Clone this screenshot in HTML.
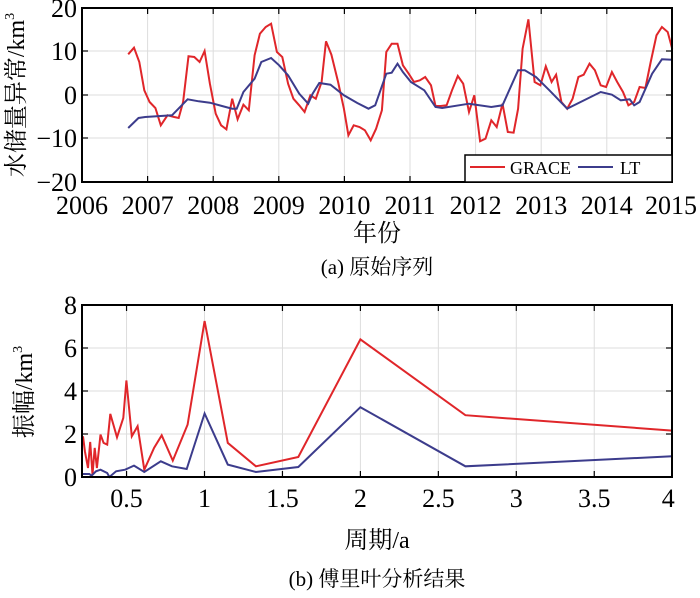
<!DOCTYPE html><html><head><style>
body{margin:0;background:#fff;width:700px;height:593px;overflow:hidden}
svg{font-family:"Liberation Serif","Noto Serif CJK SC",serif}
</style></head><body>
<svg id="s" width="700" height="593" xmlns="http://www.w3.org/2000/svg">
<g stroke="#ddd" stroke-width="1" id="grid"></g>
<g id="lines" fill="none" stroke-width="2"></g>
<rect x="82" y="8" width="590" height="174" fill="none" stroke="#000" stroke-width="2"/>
<rect x="82" y="305" width="590" height="172" fill="none" stroke="#000" stroke-width="2"/>
<g id="ticks" stroke="#000" stroke-width="1.2"></g>
<g font-size="26" text-anchor="end" fill="#000">
<text x="77" y="17">20</text><text x="77" y="60">10</text><text x="77" y="104">0</text><text x="77" y="147">−10</text><text x="77" y="191">−20</text>
<text x="77" y="314">8</text><text x="77" y="357">6</text><text x="77" y="400">4</text><text x="77" y="443">2</text><text x="77" y="486">0</text>
</g>
<g font-size="26" text-anchor="middle" id="xl"></g>
<text transform="translate(24,95) rotate(-90)" font-size="24" text-anchor="middle">水储量异常/km<tspan font-size="14" dy="-10">3</tspan></text>
<text transform="translate(32,392) rotate(-90)" font-size="24" text-anchor="middle">振幅/km<tspan font-size="14" dy="-10">3</tspan></text>
<text x="377" y="241" font-size="24" text-anchor="middle">年份</text>
<text x="377" y="274" font-size="21" text-anchor="middle">(a) 原始序列</text>
<text x="377" y="548" font-size="24" text-anchor="middle">周期/a</text>
<text x="377" y="586" font-size="21" text-anchor="middle">(b) 傅里叶分析结果</text>
<rect x="465" y="155" width="207" height="27" fill="#fff" stroke="#000" stroke-width="1.5"/>
<line x1="470" y1="167" x2="505" y2="167" stroke="#e0262a" stroke-width="2"/>
<text x="510" y="174" font-size="18">GRACE</text>
<line x1="578" y1="167" x2="613" y2="167" stroke="#3c3c8c" stroke-width="2"/>
<text x="620" y="174" font-size="18">LT</text>
</svg>
<script>
var R="#e0262a",B="#3c3c8c";
var g=[[287,157],[300,137],[312,180],[323,265],[335,300],[348,318],[360,370],[375,340],[390,345],[400,348],[410,300],[422,163],[435,165],[447,180],[458,147],[470,245],[483,335],[495,370],[507,382],[520,290],[532,352],[545,308],[557,325],[570,160],[582,95],[595,75],[607,65],[620,150],[632,165],[645,245],[657,290],[670,310],[682,330],[695,280],[707,290],[720,240],[730,118],[742,158],[757,240],[770,320],[780,400],[792,370],[805,375],[817,385],[830,415],[842,380],[855,325],[865,150],[877,125],[890,125],[902,190],[915,215],[927,240],[940,235],[952,225],[965,250],[975,312],[987,312],[1000,310],[1012,265],[1025,222],[1037,245],[1050,330],[1062,280],[1075,418],[1087,410],[1100,355],[1112,375],[1125,305],[1137,390],[1150,392],[1160,320],[1170,140],[1183,52],[1197,240],[1210,250],[1222,193],[1235,240],[1245,218],[1257,300],[1270,320],[1282,290],[1295,225],[1307,218],[1320,185],[1332,205],[1345,250],[1357,255],[1370,210],[1382,240],[1395,270],[1407,310],[1420,300],[1432,255],[1445,258],[1457,180],[1470,100],[1482,75],[1495,90],[1505,140]];
var l=[[287,378],[310,348],[325,345],[385,340],[420,292],[445,298],[470,302],[497,312],[520,320],[530,320],[545,270],[570,230],[585,180],[607,168],[625,190],[645,220],[670,275],[690,305],[700,275],[715,243],[740,248],[770,280],[800,303],[825,320],[840,310],[865,215],[877,212],[890,185],[902,210],[920,240],[950,265],[975,315],[990,318],[1050,305],[1100,315],[1125,310],[1160,205],[1175,205],[1200,225],[1230,265],[1270,320],[1300,300],[1345,270],[1370,278],[1390,295],[1410,292],[1420,310],[1432,300],[1460,215],[1482,172],[1505,173]];
var r2=[[183,435],[190,480],[197,530],[202,452],[207,550],[212,470],[217,530],[225,430],[232,455],[240,460],[247,368],[262,438],[276,380],[283,268],[295,435],[308,405],[323,535],[345,470],[362,432],[387,508],[420,400],[458,90],[510,455],[573,525],[668,497],[807,145],[1042,372],[1505,418]];
var b2=[[183,548],[200,548],[205,553],[215,540],[225,535],[240,545],[245,557],[260,540],[280,535],[300,523],[323,542],[360,510],[385,525],[418,533],[458,367],[510,520],[573,542],[668,527],[807,348],[1042,525],[1505,495]];
function fTop(p){return [p[0]/2.239, 8+(p[1]-18)*174/522];}
function fBot(p){return [Math.max(83,p[0]/2.239), 305+(p[1]-42)*172/515];}
var L=document.getElementById("lines"),ns="http://www.w3.org/2000/svg";
function pl(a,f,c){var e=document.createElementNS(ns,"polyline");e.setAttribute("points",a.map(f).map(function(q){return q[0].toFixed(1)+","+q[1].toFixed(1)}).join(" "));e.setAttribute("stroke",c);L.appendChild(e);}
pl(g,fTop,R);pl(l,fTop,B);pl(r2,fBot,R);pl(b2,fBot,B);
var G=document.getElementById("grid"),T=document.getElementById("ticks"),X=document.getElementById("xl");
function ln(P,a,b,c,d){var e=document.createElementNS(ns,"line");e.setAttribute("x1",a);e.setAttribute("y1",b);e.setAttribute("x2",c);e.setAttribute("y2",d);P.appendChild(e);}
function tx(x,y,s){var e=document.createElementNS(ns,"text");e.setAttribute("x",x);e.setAttribute("y",y);e.textContent=s;X.appendChild(e);}
for(var i=1;i<=8;i++){var x=82+i*65.6;ln(G,x,8,x,182);ln(T,x,182,x,176);ln(T,x,8,x,14);}
for(var i=0;i<=9;i++){tx(Math.min(82+i*65.6,671),214,String(2006+i));}
[51,95,138].forEach(function(y){ln(G,82,y,672,y);ln(T,82,y,88,y);ln(T,672,y,666,y);});
[0.5,1,1.5,2,2.5,3,3.5,4].forEach(function(v){var x=204.5+(v-1)*155.9;ln(G,x,305,x,477);ln(T,x,477,x,471);ln(T,x,305,x,311);tx(x-(v==4?4:0),507,String(v));});
[348,391,434].forEach(function(y){ln(G,82,y,672,y);ln(T,82,y,88,y);ln(T,672,y,666,y);});
</script>
</body></html>
